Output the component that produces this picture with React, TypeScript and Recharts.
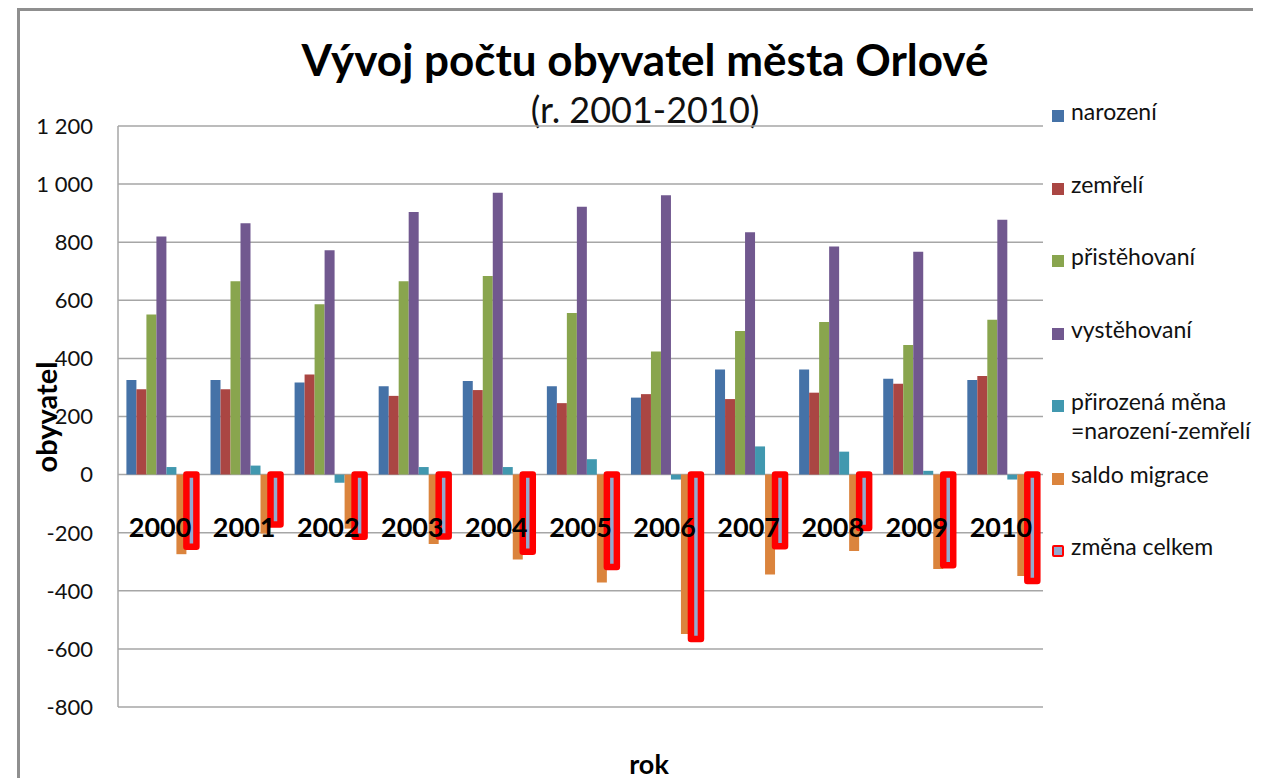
import { BarChart, Bar, XAxis, YAxis, CartesianGrid } from 'recharts';

const YEARS = ['2000', '2001', '2002', '2003', '2004', '2005', '2006', '2007', '2008', '2009', '2010'];
const NAROZENI = [326, 326, 317, 304, 322, 304, 265, 362, 362, 330, 326];
const ZEMRELI = [294, 294, 345, 271, 291, 246, 277, 260, 282, 313, 339];
const PRISTEHOVANI = [551, 666, 586, 666, 684, 556, 424, 494, 525, 446, 533];
const VYSTEHOVANI = [820, 865, 772, 904, 970, 922, 962, 834, 785, 767, 877];
const PRIROZENA = [26, 31, -28, 26, 26, 53, -17, 97, 79, 13, -17];
const SALDO = [-274, -203, -186, -239, -292, -371, -549, -344, -263, -325, -349];
const ZMENA = [-248, -172, -214, -213, -266, -318, -566, -247, -184, -312, -366];
const Y_TICKS = [-800, -600, -400, -200, 0, 200, 400, 600, 800, 1000, 1200];

const data = YEARS.map((year, i) => ({
  year,
  narozeni: NAROZENI[i],
  zemreli: ZEMRELI[i],
  pristehovani: PRISTEHOVANI[i],
  vystehovani: VYSTEHOVANI[i],
  prirozena: PRIROZENA[i],
  saldo: SALDO[i],
  zmena: ZMENA[i],
}));

const SERIES = [
  { key: 'narozeni', name: 'narození', color: '#4572A7' },
  { key: 'zemreli', name: 'zemřelí', color: '#AA4643' },
  { key: 'pristehovani', name: 'přistěhovaní', color: '#89A54E' },
  { key: 'vystehovani', name: 'vystěhovaní', color: '#71588F' },
  { key: 'prirozena', name: 'přirozená měna\n=narození-zemřelí', color: '#4198AF' },
  { key: 'saldo', name: 'saldo migrace', color: '#DB843D' },
  { key: 'zmena', name: 'změna celkem', color: '#93A9CF', stroke: '#FF0000' },
];

const W = 1253;
const H = 770;
const PLOT_TOP = 118;
const PLOT_BOTTOM = 699;
const PLOT_LEFT = 110;
const PLOT_RIGHT = 1035;
const Y_MIN = -800;
const Y_MAX = 1200;
const FONT = 'Lato, "Open Sans", sans-serif';

const fmt = (v: number) => {
  const a = Math.abs(v);
  if (a < 1000) return String(v);
  return `${v < 0 ? '-' : ''}${Math.floor(a / 1000)} ${String(a % 1000).padStart(3, '0')}`;
};

// year labels sit just under the zero line, like the Excel original
const YearTick = ({ x, payload }: any) => {
  const y = PLOT_TOP + ((Y_MAX + 180) / (Y_MAX - Y_MIN)) * (PLOT_BOTTOM - PLOT_TOP);
  return (
    <text x={x} y={y} textAnchor="middle" dominantBaseline="central" fontSize={27} fontWeight={700} fill="#000" fontFamily={FONT}>
      {payload.value}
    </text>
  );
};

const LegendBox = () => (
  <div style={{ position: 'absolute', left: 1044, top: 94, fontFamily: FONT, fontSize: 23, color: '#111' }}>
    {SERIES.map((s) => (
      <div key={s.key} style={{ height: 72.5, display: 'flex', alignItems: 'flex-start' }}>
        <span
          style={{
            display: 'inline-block',
            width: s.stroke ? 8 : 12,
            height: s.stroke ? 8 : 12,
            background: s.color,
            border: s.stroke ? `2.5px solid ${s.stroke}` : 'none',
            borderRadius: s.stroke ? 2 : 0,
            marginTop: 8,
            marginRight: 7,
            flexShrink: 0,
          }}
        />
        <span style={{ whiteSpace: 'pre', lineHeight: '29px', marginTop: -5 }}>{s.name}</span>
      </div>
    ))}
  </div>
);

export default function App() {
  return (
    <div style={{ position: 'relative', width: W, height: H, background: '#fff', overflow: 'hidden' }}>
      <style>{'html,body{overflow:hidden}'}</style>
      <div style={{ position: 'absolute', left: 9, top: 0, width: W, height: H, borderLeft: '3px solid #8f8f8f', borderTop: '3px solid #8f8f8f' }} />
      <div style={{ position: 'absolute', left: 0, width: 1274, top: 25, textAlign: 'center', fontFamily: FONT, fontWeight: 700, fontSize: 44, color: '#000' }}>
        Vývoj počtu obyvatel města Orlové
      </div>
      <div style={{ position: 'absolute', left: 0, width: 1274, top: 79, textAlign: 'center', fontFamily: FONT, fontSize: 36, color: '#111' }}>
        (r. 2001-2010)
      </div>
      <div
        style={{
          position: 'absolute', left: 37, top: 409, transform: 'translate(-50%, -50%) rotate(-90deg)',
          fontFamily: FONT, fontWeight: 700, fontSize: 29, color: '#000', whiteSpace: 'nowrap',
        }}
      >
        obyvatel
      </div>
      <div style={{ position: 'absolute', left: 641, top: 755, transform: 'translate(-50%, -50%)', fontFamily: FONT, fontWeight: 700, fontSize: 27, color: '#000' }}>
        rok
      </div>
      <LegendBox />
      <div style={{ position: 'absolute', left: 0, top: 0 }}>
        <BarChart
          width={W}
          height={H}
          data={data}
          margin={{ top: PLOT_TOP, right: W - PLOT_RIGHT, bottom: H - PLOT_BOTTOM - 30, left: PLOT_LEFT - 80 }}
          barCategoryGap="10%"
          barGap={0}
        >
          <CartesianGrid vertical={false} stroke="#a6a6a6" strokeWidth={1.5} />
          <XAxis dataKey="year" height={30} axisLine={false} tickLine={false} tick={<YearTick />} interval={0} />
          <YAxis
            width={80}
            domain={[Y_MIN, Y_MAX]}
            ticks={Y_TICKS}
            tickFormatter={fmt}
            axisLine={{ stroke: '#a6a6a6', strokeWidth: 1.5 }}
            tickLine={false}
            tickSize={0}
            tickMargin={25}
            tick={{ fontSize: 22, fill: '#111', fontFamily: FONT }}
            interval={0}
          />
          {SERIES.map((s) => (
            <Bar
              key={s.key}
              dataKey={s.key}
              name={s.name}
              fill={s.color}
              stroke={s.stroke}
              strokeWidth={s.stroke ? 6.5 : 0}
              strokeLinejoin="round"
              isAnimationActive={false}
            />
          ))}
        </BarChart>
      </div>
    </div>
  );
}
